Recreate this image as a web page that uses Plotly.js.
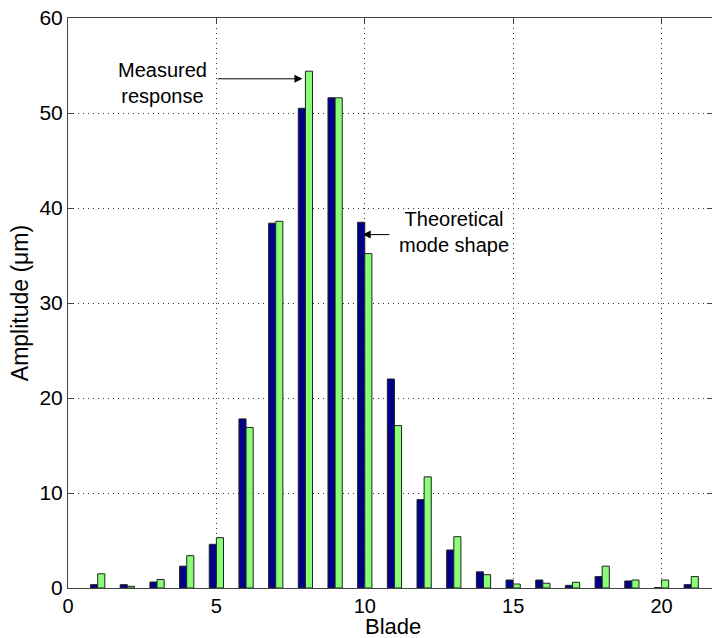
<!DOCTYPE html>
<html><head><meta charset="utf-8">
<script src="https://cdn.plot.ly/plotly-3.0.1.min.js"></script>
<style>body{margin:0;background:#fff}#c{width:712px;height:638px}</style>
</head><body><div id="c"></div>
<script>
const blades = [1,2,3,4,5,6,7,8,9,10,11,12,13,14,15,16,17,18,19,20,21];
const theoretical = [0.35,0.35,0.63,2.3,4.6,17.8,38.4,50.5,51.6,38.5,22.0,9.3,4.0,1.7,0.84,0.84,0.28,1.2,0.74,0.05,0.35];
const measured = [1.5,0.18,0.9,3.4,5.3,16.9,38.6,54.4,51.6,35.2,17.1,11.7,5.4,1.4,0.42,0.5,0.6,2.3,0.84,0.84,1.2];
const xTicks = [0,5,10,15,20];
const yTicks = [0,10,20,30,40,50,60];

const font = {family:'"Liberation Sans", Arial, sans-serif', color:'#000'};
const traces = [
  {type:'bar', x:blades, y:theoretical, name:'Theoretical mode shape',
   marker:{color:'#000088', line:{color:'#222', width:1}}},
  {type:'bar', x:blades, y:measured, name:'Measured response',
   marker:{color:'#88FF77', line:{color:'#222', width:1}}}
];
const axisCommon = {showline:true, mirror:'ticks', linecolor:'#444', linewidth:1,
  ticks:'inside', ticklen:5, tickcolor:'#444', showgrid:true, gridcolor:'#333',
  griddash:'1px,4px', gridwidth:1, zeroline:false, tickfont:Object.assign({size:21}, font)};
const layout = {
  width:712, height:638, margin:{l:68, r:0, t:18, b:50},
  paper_bgcolor:'#fff', plot_bgcolor:'#fff', showlegend:false,
  barmode:'group', bargap:0.52, bargroupgap:0,
  font: font,
  xaxis:Object.assign({}, axisCommon, {range:[0,21.7], tickvals:xTicks,
    tickfont:Object.assign({size:20}, font)}),
  yaxis:Object.assign({}, axisCommon, {range:[0,60], tickvals:yTicks,
    title:{text:'Amplitude (\u03bcm)', font:Object.assign({size:23}, font), standoff:4}}),
  annotations:[
    {x:0.505, y:-0.068, xref:'paper', yref:'paper', text:'Blade', showarrow:false,
     xanchor:'center', yanchor:'middle', font:Object.assign({size:22}, font)},
    {x:7.9, y:53.6, ax:5.0, ay:53.6, axref:'x', ayref:'y', xref:'x', yref:'y',
     text:'', showarrow:true, arrowhead:2, arrowsize:1.6, arrowwidth:1, arrowcolor:'#000'},
    {x:3.2, y:53.2, xref:'x', yref:'y', text:'Measured<br>response', showarrow:false,
     font:Object.assign({size:20}, font), align:'center'},
    {x:9.93, y:37.2, ax:10.88, ay:37.2, axref:'x', ayref:'y', xref:'x', yref:'y',
     text:'', showarrow:true, arrowhead:2, arrowsize:1.6, arrowwidth:1, arrowcolor:'#000'},
    {x:13.0, y:37.5, xref:'x', yref:'y', text:'Theoretical<br>mode shape', showarrow:false,
     font:Object.assign({size:20}, font), align:'center'}
  ]
};
Plotly.newPlot('c', traces, layout, {displayModeBar:false, staticPlot:true});
</script></body></html>
